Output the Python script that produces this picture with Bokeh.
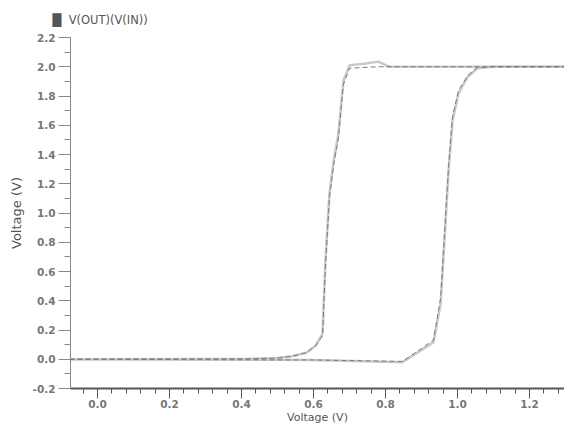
from bokeh.plotting import figure
from bokeh.models import (Range1d, SingleIntervalTicker, PrintfTickFormatter, Title)
from bokeh.embed import file_html
from bokeh.resources import INLINE

# Curve A: low-threshold transition (two nearly overlapping traces)
a_x = [-0.1, 0.42, 0.50, 0.54, 0.58, 0.605, 0.625, 0.633, 0.644, 0.656, 0.669, 0.683, 0.700, 0.740, 0.780, 0.810, 0.900, 1.35]
a_y1 = [0.0, 0.003, 0.008, 0.02, 0.045, 0.09, 0.176, 0.67, 1.13, 1.36, 1.54, 1.906, 2.01, 2.02, 2.035, 2.0, 2.0, 2.0]
a_y2 = [0.0, 0.003, 0.008, 0.02, 0.045, 0.09, 0.16, 0.63, 1.10, 1.33, 1.51, 1.88, 1.99, 1.995, 2.0, 2.0, 2.0, 2.0]

# Curve B: high-threshold transition
b_x = [-0.1, 0.60, 0.847, 0.933, 0.953, 0.964, 0.975, 0.986, 1.003, 1.028, 1.055, 1.10, 1.35]
b_y1 = [0.0, -0.005, -0.02, 0.115, 0.38, 0.83, 1.29, 1.63, 1.82, 1.93, 1.99, 2.0, 2.0]
b_y2 = [0.0, -0.005, -0.015, 0.13, 0.42, 0.87, 1.32, 1.66, 1.84, 1.94, 1.995, 2.0, 2.0]

series_label = "V(OUT)(V(IN))"
x_label = "Voltage (V)"
y_label = "Voltage (V)"

p = figure(width=564, height=426, output_backend="svg", toolbar_location=None,
           x_range=Range1d(-0.075, 1.297), y_range=Range1d(-0.2, 2.2),
           min_border_left=70, min_border_right=0, min_border_top=37, min_border_bottom=37)
p.outline_line_color = None
p.xgrid.visible = False
p.ygrid.visible = False
p.background_fill_color = "white"
p.border_fill_color = "white"

p.title = Title(text="\u2588\u00a0\u00a0" + series_label, align="left", offset=-18, standoff=21,
                text_font="DejaVu Sans", text_font_size="11.5px", text_font_style="normal",
                text_color="#555555")

light = "#c9c9c9"
dark = "#7a7a7a"
for xs, ys in [(a_x, a_y1), (b_x, b_y1)]:
    p.line(xs, ys, line_color=light, line_width=2.5)
for xs, ys in [(a_x, a_y2), (b_x, b_y2)]:
    p.line(xs, ys, line_color=dark, line_width=1, line_dash="5 3")

xa = p.xaxis[0]
xa.ticker = SingleIntervalTicker(interval=0.2, num_minor_ticks=5)
xa.formatter = PrintfTickFormatter(format="%.1f")
xa.axis_line_color = "#555555"
xa.axis_line_width = 2
xa.major_tick_line_color = "#555555"
xa.minor_tick_line_color = "#555555"
xa.major_tick_out = 10
xa.major_tick_in = 0
xa.minor_tick_out = 5
xa.minor_tick_in = 0
xa.major_label_text_font = "DejaVu Sans"
xa.major_label_text_font_size = "10.5px"
xa.major_label_text_font_style = "bold"
xa.major_label_text_color = "#777777"
xa.major_label_standoff = 1
xa.axis_label = x_label
xa.axis_label_text_font = "DejaVu Sans"
xa.axis_label_text_font_size = "11px"
xa.axis_label_text_font_style = "normal"
xa.axis_label_text_color = "#555555"
xa.axis_label_standoff = 0

ya = p.yaxis[0]
ya.ticker = SingleIntervalTicker(interval=0.2, num_minor_ticks=2)
ya.formatter = PrintfTickFormatter(format="%.1f")
ya.axis_line_color = "#888888"
ya.axis_line_width = 1
ya.major_tick_line_color = "#888888"
ya.minor_tick_line_color = "#888888"
ya.major_tick_out = 12
ya.major_tick_in = 0
ya.minor_tick_out = 6
ya.minor_tick_in = 0
ya.major_label_text_font = "DejaVu Sans"
ya.major_label_text_font_size = "10.5px"
ya.major_label_text_font_style = "bold"
ya.major_label_text_color = "#777777"
ya.major_label_standoff = 3
ya.axis_label = y_label
ya.axis_label_text_font = "DejaVu Sans"
ya.axis_label_text_font_size = "13px"
ya.axis_label_text_font_style = "normal"
ya.axis_label_text_color = "#555555"
ya.axis_label_standoff = 6

open("out.html", "w").write(file_html(p, INLINE))
